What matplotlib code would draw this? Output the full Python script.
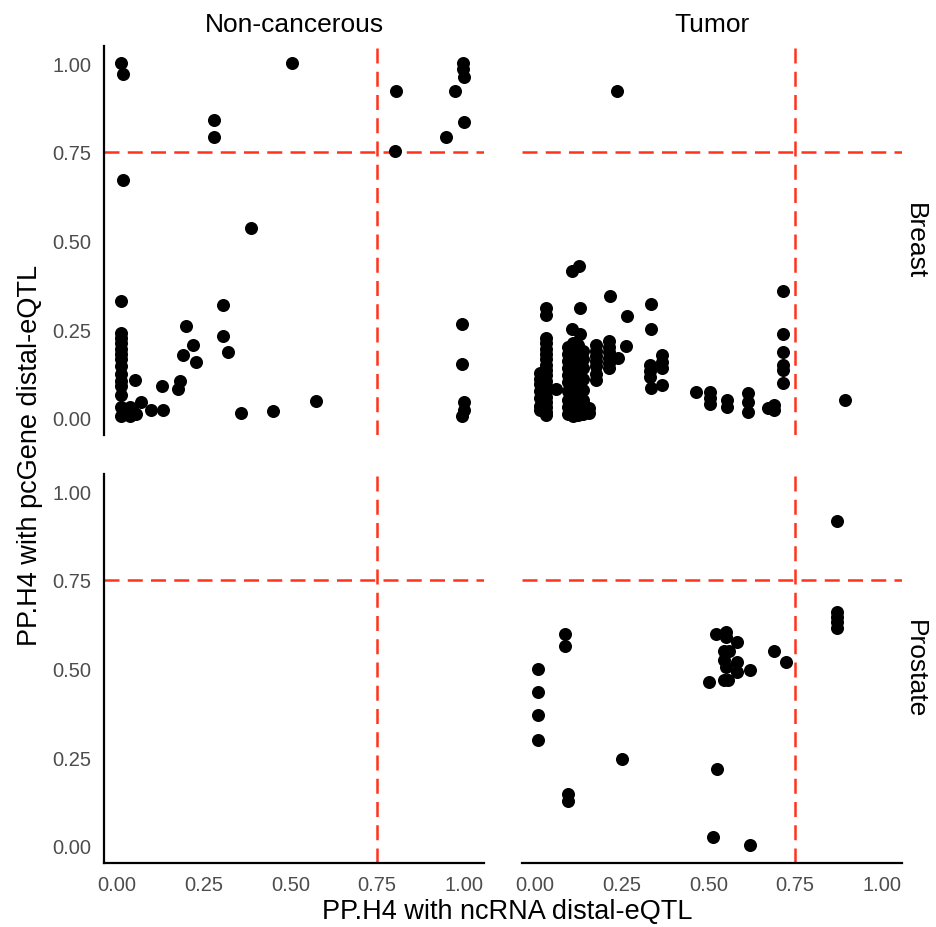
import matplotlib.pyplot as plt

plt.rcParams['font.family'] = ['Liberation Sans', 'DejaVu Sans']

# Non-cancerous / Breast
nc_breast_x = [0.013, 0.018, 0.505, 0.279, 0.279, 0.804, 0.802, 0.997, 0.997, 1.0,
               0.974, 1.0, 0.948, 0.018, 0.388, 0.013, 0.307, 0.198, 0.307, 0.22,
               0.19, 0.229, 0.321, 0.996, 0.994, 1.0, 1.0, 0.996, 0.183, 0.177,
               0.129, 0.051, 0.071, 0.097, 0.133, 0.357, 0.449, 0.575,
               0.013, 0.013, 0.013, 0.013, 0.013, 0.013, 0.013, 0.013, 0.013, 0.013,
               0.013, 0.013, 0.013, 0.037, 0.056, 0.037, 0.025, 0.045]
nc_breast_y = [1.0, 0.969, 1.0, 0.839, 0.793, 0.92, 0.751, 1.0, 0.983, 0.962,
               0.92, 0.835, 0.793, 0.671, 0.536, 0.329, 0.319, 0.258, 0.23, 0.206,
               0.178, 0.159, 0.185, 0.265, 0.152, 0.046, 0.023, 0.005, 0.105, 0.082,
               0.09, 0.107, 0.044, 0.023, 0.023, 0.015, 0.021, 0.049,
               0.239, 0.225, 0.21, 0.195, 0.18, 0.165, 0.145, 0.125, 0.105, 0.09,
               0.065, 0.03, 0.005, 0.03, 0.01, 0.005, 0.02, 0.025]

# Tumor / Breast
t_breast_x = [0.237, 0.128, 0.108, 0.714, 0.714, 0.714, 0.714, 0.714, 0.714, 0.216,
              0.033, 0.033, 0.13, 0.335, 0.335, 0.266, 0.108, 0.13, 0.262, 0.366,
              0.366, 0.366, 0.366, 0.333, 0.333, 0.333, 0.335, 0.464, 0.504, 0.504,
              0.504, 0.555, 0.555, 0.613, 0.613, 0.613, 0.673, 0.688, 0.688, 0.894,
              0.06,
              0.031, 0.031, 0.031, 0.031, 0.031, 0.031, 0.031, 0.031, 0.031, 0.031,
              0.031, 0.031, 0.031, 0.031, 0.031, 0.031,
              0.016, 0.016, 0.016, 0.016, 0.016, 0.016, 0.016,
              0.095, 0.095, 0.095, 0.095, 0.095, 0.095, 0.095, 0.095, 0.095, 0.095,
              0.11, 0.11, 0.11, 0.11, 0.11, 0.11, 0.11, 0.11, 0.11, 0.11, 0.11, 0.11,
              0.125, 0.125, 0.125, 0.125, 0.125, 0.125, 0.125, 0.125, 0.125, 0.125, 0.125,
              0.14, 0.14, 0.14, 0.14, 0.14, 0.14, 0.14, 0.14,
              0.157, 0.157,
              0.176, 0.176, 0.176, 0.176, 0.176, 0.176, 0.176,
              0.214, 0.214, 0.214, 0.214, 0.214, 0.214, 0.239]
t_breast_y = [0.92, 0.427, 0.413, 0.357, 0.237, 0.185, 0.15, 0.136, 0.098, 0.345,
              0.31, 0.29, 0.31, 0.32, 0.25, 0.287, 0.252, 0.237, 0.204, 0.178,
              0.159, 0.14, 0.093, 0.15, 0.131, 0.115, 0.084, 0.074, 0.074, 0.056,
              0.04, 0.051, 0.032, 0.07, 0.046, 0.018, 0.029, 0.037, 0.023, 0.051,
              0.082,
              0.225, 0.21, 0.195, 0.18, 0.165, 0.15, 0.135, 0.12, 0.105, 0.09,
              0.075, 0.06, 0.045, 0.03, 0.018, 0.008,
              0.127, 0.11, 0.095, 0.075, 0.055, 0.035, 0.023,
              0.2, 0.18, 0.16, 0.14, 0.12, 0.1, 0.075, 0.05, 0.03, 0.01,
              0.21, 0.19, 0.175, 0.155, 0.135, 0.115, 0.095, 0.08, 0.06, 0.04, 0.02, 0.005,
              0.205, 0.185, 0.165, 0.145, 0.125, 0.105, 0.085, 0.065, 0.045, 0.025, 0.008,
              0.19, 0.165, 0.14, 0.11, 0.08, 0.05, 0.025, 0.01,
              0.027, 0.015,
              0.206, 0.19, 0.175, 0.16, 0.145, 0.125, 0.107,
              0.216, 0.2, 0.185, 0.17, 0.155, 0.14, 0.169]

# Tumor / Prostate
t_prostate_x = [0.872, 0.872, 0.872, 0.872, 0.872, 0.087, 0.087, 0.009, 0.009, 0.009,
                0.009, 0.251, 0.096, 0.096, 0.524, 0.514, 0.62, 0.522, 0.551, 0.551,
                0.583, 0.545, 0.559, 0.545, 0.583, 0.551, 0.583, 0.62, 0.502, 0.545,
                0.556, 0.688, 0.725]
t_prostate_y = [0.916, 0.659, 0.645, 0.631, 0.614, 0.598, 0.562, 0.499, 0.435, 0.368,
                0.298, 0.246, 0.147, 0.126, 0.217, 0.026, 0.003, 0.596, 0.602, 0.588,
                0.576, 0.548, 0.548, 0.525, 0.519, 0.503, 0.489, 0.497, 0.461, 0.468,
                0.468, 0.55, 0.519]

col_labels = ["Non-cancerous", "Tumor"]
row_labels = ["Breast", "Prostate"]
ticks = [0.0, 0.25, 0.5, 0.75, 1.0]
tick_labels = ["0.00", "0.25", "0.50", "0.75", "1.00"]
threshold = 0.75

panels = {
    (0, 0): (nc_breast_x, nc_breast_y),
    (0, 1): (t_breast_x, t_breast_y),
    (1, 0): ([], []),
    (1, 1): (t_prostate_x, t_prostate_y),
}

W, H = 937, 928
fig = plt.figure(figsize=(W / 100, H / 100), dpi=100)
col_left = [104, 522]
col_w = 380
row_top = [47, 475]
row_h = 389
red = "#FF3319"
dash = (0, (6, 3.3))

for (r, c), (xs, ys) in panels.items():
    ax = fig.add_axes([col_left[c] / W, 1 - (row_top[r] + row_h) / H, col_w / W, row_h / H])
    ax.axvline(threshold, color=red, ls=dash, lw=1.8, zorder=1)
    ax.axhline(threshold, color=red, ls=dash, lw=1.8, zorder=1)
    ax.scatter(xs, ys, s=88, color="black", linewidths=0, zorder=3)
    ax.set_xlim(-0.037, 1.058)
    ax.set_ylim(-0.048, 1.048)
    for side in ["top", "right", "left", "bottom"]:
        ax.spines[side].set_visible(False)
    ax.set_xticks(ticks)
    ax.set_yticks(ticks)
    ax.tick_params(length=0, labelsize=14.5, labelcolor="#4D4D4D", pad=9)
    if c == 0:
        ax.spines["left"].set_visible(True)
        ax.spines["left"].set_linewidth(1.6)
        ax.set_yticklabels(tick_labels)
    else:
        ax.set_yticklabels([])
    if r == 1:
        ax.spines["bottom"].set_visible(True)
        ax.spines["bottom"].set_linewidth(1.6)
        ax.set_xticklabels(tick_labels)
    else:
        ax.set_xticklabels([])

for c, lab in enumerate(col_labels):
    fig.text((col_left[c] + col_w / 2) / W, 1 - 25 / H, lab, ha="center", va="center", fontsize=19)
for r, lab in enumerate(row_labels):
    fig.text(915 / W, 1 - (row_top[r] + row_h / 2) / H, lab, ha="center", va="center",
             rotation=-90, fontsize=19)

fig.text(507 / W, 1 - 912 / H, "PP.H4 with ncRNA distal-eQTL", ha="center", va="center", fontsize=19.5)
fig.text(30 / W, 1 - 455 / H, "PP.H4 with pcGene distal-eQTL", ha="center", va="center",
         rotation=90, fontsize=19.5)

fig.savefig("out.png", dpi=100, facecolor="white")
